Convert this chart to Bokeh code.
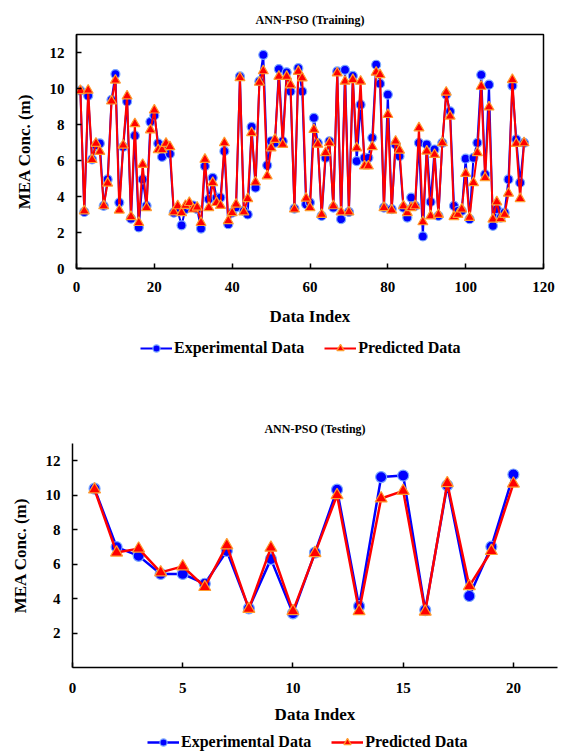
from bokeh.plotting import figure
from bokeh.models import Legend, LegendItem, FixedTicker, Range1d
from bokeh.embed import file_html
from bokeh.resources import INLINE

FONT = "Liberation Serif"

train_idx = list(range(1, 116))
train_exp = [9.88, 3.14, 9.6, 6.06, 6.85, 6.95, 3.48, 4.95, 9.37, 10.8,
             3.66, 6.76, 9.28, 2.77, 7.38, 2.28, 4.95, 3.48, 8.15, 8.5,
             6.95, 6.2, 6.85, 6.37, 3.1, 3.2, 2.4, 3.3, 3.5, 3.5,
             3.3, 2.22, 5.69, 3.85, 5.04, 3.94, 3.94, 6.52, 2.46, 3.1,
             3.4, 10.67, 3.2, 3.0, 7.87, 4.49, 10.4, 11.87, 5.73, 7.07,
             6.98, 11.08, 7.07, 10.9, 9.84, 3.33, 11.13, 9.84, 3.57, 3.66,
             8.37, 6.98, 2.92, 6.15, 7.07, 3.38, 10.95, 2.74, 11.04, 3.14,
             10.7, 5.97, 9.1, 6.15, 6.15, 7.26, 11.32, 10.27, 3.38, 9.66,
             3.3, 6.89, 6.24, 3.38, 2.83, 3.94, 3.48, 6.98, 1.78, 6.89,
             3.7, 6.61, 2.92, 6.98, 9.66, 8.73, 3.48, 3.2, 3.2, 6.1,
             2.74, 6.15, 6.98, 10.76, 5.23, 10.21, 2.37, 3.3, 2.83, 3.1,
             4.95, 10.15, 7.17, 4.77, 6.98]
train_pred = [9.88, 3.2, 9.9, 6.05, 6.95, 6.5, 3.48, 4.74, 9.3, 10.46,
              3.24, 6.85, 9.58, 2.88, 8.04, 2.55, 5.78, 3.38, 7.7, 8.8,
              6.6, 6.6, 6.95, 6.76, 3.14, 3.48, 3.1, 3.5, 3.66, 3.3,
              3.4, 2.55, 6.06, 3.38, 4.77, 3.66, 3.5, 6.98, 2.65, 3.1,
              3.57, 10.6, 3.14, 3.88, 7.54, 4.8, 10.34, 10.98, 5.14, 6.7,
              7.17, 10.67, 6.89, 10.67, 10.2, 3.3, 10.95, 10.58, 3.9, 3.38,
              7.72, 6.9, 3.0, 6.43, 6.98, 3.48, 10.86, 3.14, 10.4, 3.14,
              10.49, 6.7, 10.4, 5.69, 5.69, 6.76, 10.9, 10.76, 3.38, 8.55,
              3.24, 7.07, 6.57, 3.48, 3.1, 3.38, 3.48, 7.81, 2.59, 6.52,
              2.92, 6.33, 3.0, 6.98, 9.79, 8.46, 2.88, 3.0, 3.3, 5.28,
              2.83, 4.77, 6.43, 10.12, 5.04, 8.97, 2.74, 3.7, 2.77, 3.0,
              4.18, 10.49, 6.94, 3.88, 6.98]

test_idx = list(range(1, 21))
test_exp = [10.38, 6.99, 6.48, 5.43, 5.43, 4.86, 6.76, 3.43, 6.29, 3.14,
            6.67, 10.32, 3.56, 11.05, 11.14, 3.33, 10.57, 4.15, 7.01, 11.2]
test_pred = [10.33, 6.67, 6.9, 5.52, 5.87, 4.67, 7.09, 3.4, 6.95, 3.27,
             6.64, 10.0, 3.27, 9.81, 10.25, 3.24, 10.7, 4.72, 6.76, 10.67]

train_xticks = [0, 20, 40, 60, 80, 100, 120]
train_yticks = [0, 2, 4, 6, 8, 10, 12]
test_xticks = [0, 5, 10, 15, 20]
test_yticks = [2, 4, 6, 8, 10, 12]
legend_labels = ["Experimental Data", "Predicted Data"]

BLUE = "#0000ff"
BLUE_EDGE = "#7aa7ff"
RED = "#ff0000"
RED_EDGE = "#ff9a2e"


def draw_series(p, x, ye, yp, msize, lw):
    le = p.line(x, ye, line_color=BLUE, line_width=lw)
    se = p.scatter(x, ye, marker="circle", size=msize, fill_color=BLUE,
                   line_color=BLUE_EDGE, line_width=1.2)
    lp = p.line(x, yp, line_color=RED, line_width=lw)
    sp = p.scatter(x, yp, marker="triangle", size=msize + 1, fill_color=RED,
                   line_color=RED_EDGE, line_width=1.2)
    return le, se, lp, sp


def make(title, x, ye, yp, xr, yr, xt, yt, height, borders, msize, lw, outline,
         x_standoff, xlab_standoff, y_standoff, ylab_standoff):
    left, right, top, bottom = borders
    p = figure(width=561, height=height, x_range=Range1d(*xr), y_range=Range1d(*yr),
               output_backend="svg", toolbar_location=None, title=title,
               min_border_left=left, min_border_right=right,
               min_border_top=top, min_border_bottom=bottom)
    p.title.align = "center"
    p.title.text_font = FONT
    p.title.text_font_style = "bold"
    p.title.text_font_size = "12px"
    p.title.text_color = "black"
    p.title.standoff = 16
    p.grid.visible = False
    p.outline_line_color = "black" if outline else None
    p.outline_line_width = 1.5
    p.background_fill_color = "white"
    p.border_fill_color = "white"

    for ax in (p.xaxis[0], p.yaxis[0]):
        ax.major_tick_in = 5
        ax.major_tick_out = 0
        ax.minor_tick_in = 0
        ax.minor_tick_out = 0
        ax.axis_line_color = "black"
        ax.axis_line_width = 1.5
        ax.major_tick_line_width = 1.5
        ax.major_label_text_font = FONT
        ax.major_label_text_font_style = "bold"
        ax.major_label_text_font_size = "15px"
        ax.major_label_text_color = "black"
        ax.axis_label_text_font = FONT
        ax.axis_label_text_font_style = "bold"
        ax.axis_label_text_font_size = "17px"
        ax.axis_label_text_color = "black"
    p.xaxis[0].ticker = FixedTicker(ticks=xt)
    p.yaxis[0].ticker = FixedTicker(ticks=yt)
    p.xaxis[0].axis_label = "Data Index"
    p.yaxis[0].axis_label = "MEA Conc. (m)"
    p.xaxis[0].major_label_standoff = x_standoff
    p.xaxis[0].axis_label_standoff = xlab_standoff
    p.yaxis[0].major_label_standoff = y_standoff
    p.yaxis[0].axis_label_standoff = ylab_standoff

    draw_series(p, x, ye, yp, msize, lw)
    return p


def make_legend(height, left, bottom, msize, lw):
    q = figure(width=561, height=height, x_range=Range1d(0, 1), y_range=Range1d(0, 1),
               output_backend="svg", toolbar_location=None,
               x_axis_type=None, y_axis_type=None, min_border=0)
    q.grid.visible = False
    q.outline_line_color = None
    q.border_fill_color = "white"
    q.background_fill_color = "white"
    # legend-only renderers: their single sample lies outside the visible range
    le, se, lp, sp = draw_series(q, [5], [5], [5], msize, lw)
    legend = Legend(items=[LegendItem(label=legend_labels[0], renderers=[le, se]),
                           LegendItem(label=legend_labels[1], renderers=[lp, sp])],
                    orientation="horizontal", location=(left, bottom),
                    label_text_font=FONT, label_text_font_style="bold",
                    label_text_font_size="16px", label_text_color="black",
                    glyph_width=32, glyph_height=18, label_height=18,
                    label_standoff=2, spacing=20, padding=0, margin=0,
                    border_line_color=None, background_fill_alpha=0)
    q.add_layout(legend)
    return q


p1 = make("ANN-PSO (Training)", train_idx, train_exp, train_pred,
          (0, 120), (0, 13), train_xticks, train_yticks, 333,
          (76, 18, 34, 65), 9, 2, True, 13, 12, 12, 13)
leg1 = make_legend(30, 140, 6, 9, 2)
p2 = make("ANN-PSO (Testing)", test_idx, test_exp, test_pred,
          (0, 22), (0, 13), test_xticks, test_yticks, 363,
          (72, 4, 80, 56), 11, 2.5, False, 15, 9, 12, 13)
leg2 = make_legend(28, 147, 3, 11, 2.5)

open("out.html", "w").write(file_html([p1, leg1, p2, leg2], INLINE))
